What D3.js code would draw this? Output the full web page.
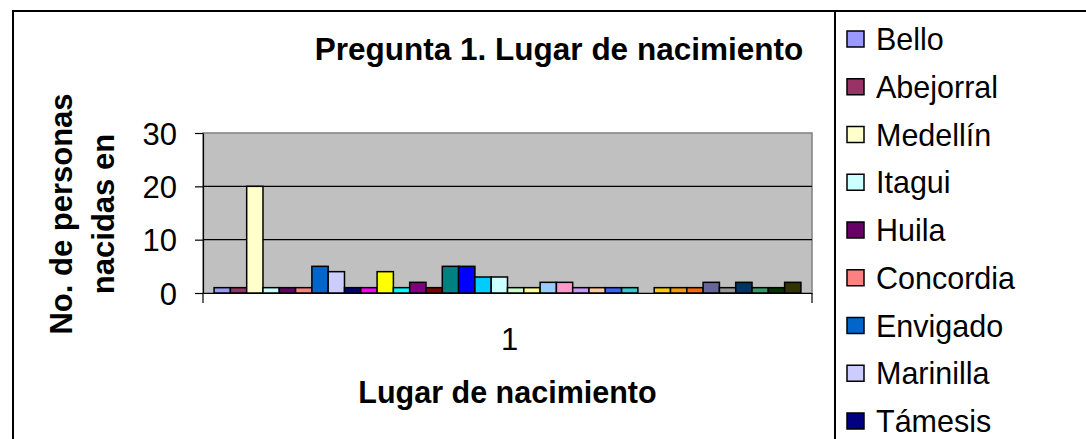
<!DOCTYPE html>
<html>
<head>
<meta charset="utf-8">
<script src="https://cdn.jsdelivr.net/npm/d3@7"></script>
<style>
  html, body { margin: 0; padding: 0; background: #fff; }
  svg { display: block; font-family: "Liberation Sans", Arial, sans-serif; }
</style>
</head>
<body>
<svg id="chart" width="1086" height="439"></svg>
<script>
// ---- data ----
const categories = ["1"];
const seriesNames = [
  "Bello", "Abejorral", "Medellín", "Itagui", "Huila", "Concordia", "Envigado", "Marinilla", "Támesis",
  "Serie 10", "Serie 11", "Serie 12", "Serie 13", "Serie 14", "Serie 15", "Serie 16", "Serie 17", "Serie 18",
  "Serie 19", "Serie 20", "Serie 21", "Serie 22", "Serie 23", "Serie 24", "Serie 25", "Serie 26", "Serie 27",
  "Serie 28", "Serie 29", "Serie 30", "Serie 31", "Serie 32", "Serie 33", "Serie 34", "Serie 35", "Serie 36"
];
const seriesValues = [1, 1, 20, 1, 1, 1, 5, 4, 1, 1, 4, 1, 2, 1, 5, 5, 3, 3, 1, 1, 2, 2, 1, 1, 1, 1, 0, 1, 1, 1, 2, 1, 2, 1, 1, 2];
const seriesColors = [
  "#9999FF", "#993366", "#FFFFCC", "#CCFFFF", "#660066", "#FF8080", "#0066CC", "#CCCCFF", "#000080",
  "#FF00FF", "#FFFF00", "#00FFFF", "#800080", "#800000", "#008080", "#0000FF", "#00CCFF", "#CCFFFF",
  "#CCFFCC", "#FFFF99", "#99CCFF", "#FF99CC", "#CC99FF", "#FFCC99", "#3366FF", "#33CCCC", "#99CC00",
  "#FFCC00", "#FF9900", "#FF6600", "#666699", "#969696", "#003366", "#339966", "#003300", "#333300"
];
const yTicks = [0, 10, 20, 30];
const titleText = "Pregunta 1. Lugar de nacimiento";
const xTitleText = "Lugar de nacimiento";
const yTitleLines = ["No. de personas", "nacidas en"];

// ---- layout ----
const W = 1086, H = 439;
const plot = { left: 203, right: 812, top: 133, bottom: 293 };
const svg = d3.select("#chart");

// outer chart border
svg.append("rect").attr("x", 13).attr("y", 11).attr("width", 1200).attr("height", 600)
  .attr("fill", "#fff").attr("stroke", "#000").attr("stroke-width", 2);

// scales
const x0 = d3.scaleBand().domain(categories).range([plot.left, plot.right]).padding(0);
const x1 = d3.scaleBand().domain(seriesNames).range([0, x0.bandwidth()]).paddingInner(0).paddingOuter(0.68);
const y = d3.scaleLinear().domain([0, 30]).range([plot.bottom, plot.top]);

// plot background
svg.append("rect").attr("x", plot.left).attr("y", plot.top)
  .attr("width", plot.right - plot.left).attr("height", plot.bottom - plot.top)
  .attr("fill", "#C0C0C0").attr("stroke", "#808080").attr("stroke-width", 1.5);

// gridlines
svg.append("g").selectAll("line").data(yTicks.filter(d => d > 0 && d < 30)).join("line")
  .attr("x1", plot.left).attr("x2", plot.right)
  .attr("y1", d => y(d)).attr("y2", d => y(d))
  .attr("stroke", "#000").attr("stroke-width", 1.2);

// bars
const g = svg.append("g");
categories.forEach(cat => {
  g.selectAll("rect.bar").data(seriesNames.map((n, i) => ({ name: n, value: seriesValues[i], color: seriesColors[i] })))
    .join("rect").attr("class", "bar")
    .filter(d => d.value > 0)
    .attr("x", d => x0(cat) + x1(d.name))
    .attr("y", d => y(d.value))
    .attr("width", x1.bandwidth())
    .attr("height", d => y(0) - y(d.value))
    .attr("fill", d => d.color)
    .attr("stroke", "#000").attr("stroke-width", 1.5);
});

// y axis
const yAxis = d3.axisLeft(y).tickValues(yTicks).tickSize(8).tickPadding(10).tickSizeOuter(0);
const ya = svg.append("g").attr("transform", `translate(${plot.left},0)`).call(yAxis);
ya.select(".domain").attr("stroke", "#000").attr("stroke-width", 1.2);
ya.selectAll(".tick line").attr("stroke", "#000").attr("stroke-width", 1.2);
ya.selectAll(".tick text").attr("font-size", 31).attr("fill", "#000")
  .attr("font-family", "'Liberation Sans', Arial, sans-serif").attr("dy", "0.36em").attr("x", -26);

// x axis
const xAxis = d3.axisBottom(x0).tickSize(0).tickPadding(0);
const xa = svg.append("g").attr("transform", `translate(0,${plot.bottom})`).call(xAxis);
xa.select(".domain").attr("stroke", "#000").attr("stroke-width", 1.2);
xa.selectAll(".tick text").attr("font-size", 31).attr("fill", "#000")
  .attr("font-family", "'Liberation Sans', Arial, sans-serif").attr("dy", null).attr("y", 57)
  .attr("transform", "translate(2,0)");
// category boundary ticks
svg.append("g").selectAll("line").data([x0.range()[0], x0.range()[1]]).join("line")
  .attr("x1", d => d).attr("x2", d => d).attr("y1", plot.bottom).attr("y2", plot.bottom + 10)
  .attr("stroke", "#000").attr("stroke-width", 1.2);

// title
svg.append("text").attr("x", 559).attr("y", 60).attr("text-anchor", "middle")
  .attr("font-size", 31.5).attr("font-weight", "bold").text(titleText);

// x title
svg.append("text").attr("x", (plot.left + plot.right) / 2).attr("y", 403).attr("text-anchor", "middle")
  .attr("font-size", 30.5).attr("font-weight", "bold").text(xTitleText);

// y title
const yt = svg.append("text").attr("transform", "translate(0,214) rotate(-90)")
  .attr("text-anchor", "middle").attr("font-size", 31).attr("font-weight", "bold");
yt.selectAll("tspan").data(yTitleLines).join("tspan")
  .attr("x", 0).attr("y", (d, i) => 72 + i * 42).text(d => d);

// legend
const legendX = 835;
svg.append("line").attr("x1", legendX).attr("x2", legendX).attr("y1", 11).attr("y2", H + 10)
  .attr("stroke", "#000").attr("stroke-width", 2);
const legStart = 39, legStep = 47.75;
const legItems = seriesNames.map((n, i) => ({ name: n, color: seriesColors[i], cy: legStart + i * legStep }))
  .filter(d => d.cy < H);
const li = svg.append("g").selectAll("g").data(legItems).join("g")
  .attr("transform", d => `translate(0,${d.cy})`);
li.append("rect").attr("x", 847).attr("y", -8).attr("width", 17).attr("height", 16)
  .attr("fill", d => d.color).attr("stroke", "#000").attr("stroke-width", 1.5);
li.append("text").attr("x", 876).attr("y", 11).attr("font-size", 30.5).text(d => d.name);
</script>
</body>
</html>
